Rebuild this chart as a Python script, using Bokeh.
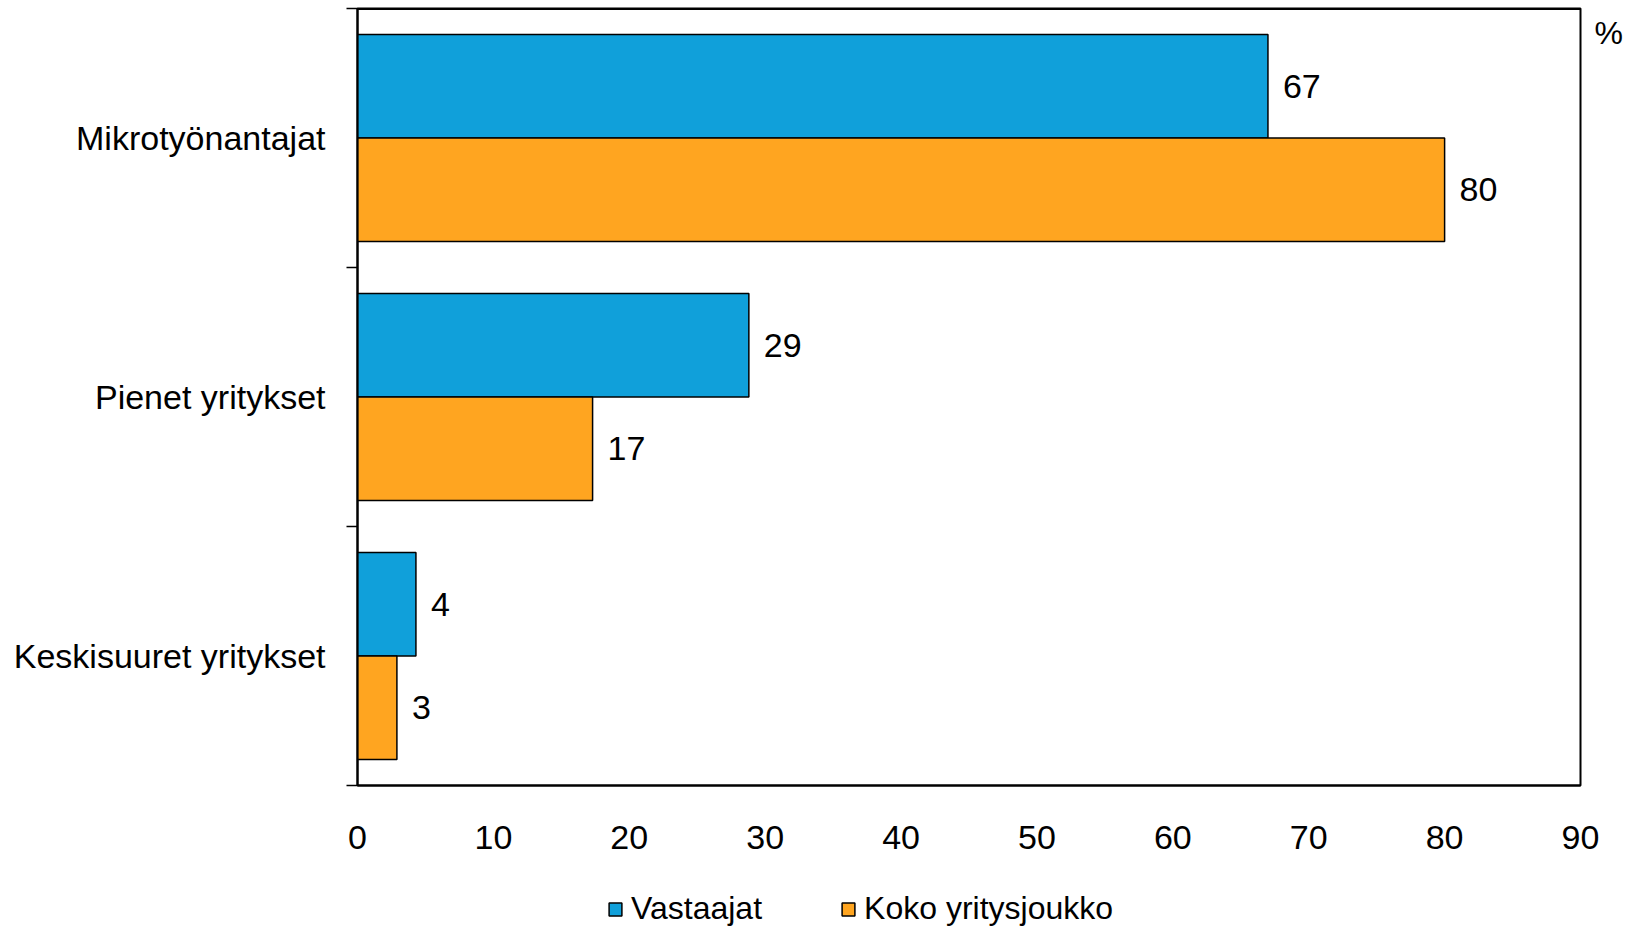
from bokeh.plotting import figure
from bokeh.models import (Range1d, FixedTicker, ColumnDataSource, Legend, LegendItem,
                          Span, LinearAxis)
from bokeh.layouts import column
from bokeh.core.properties import value
from bokeh.embed import file_html
from bokeh.resources import INLINE

# ---- data ----
categories = ["Mikrotyönantajat", "Pienet yritykset", "Keskisuuret yritykset"]
vastaajat = [67.0, 28.8, 4.3]
koko = [80.0, 17.3, 2.9]
vastaajat_labels = ["67", "29", "4"]
koko_labels = ["80", "17", "3"]
series_names = ["Vastaajat", "Koko yritysjoukko"]
x_ticks = [0, 10, 20, 30, 40, 50, 60, 70, 80, 90]
unit_label = "%"

FONT = "Liberation Sans"
BLUE = "#10A0DA"
ORANGE = "#FFA520"
COLORS = [BLUE, ORANGE]

n = len(categories)
ypos = [n - i for i in range(n)]  # 3,2,1 from top

p = figure(width=1626, height=865, output_backend="svg", toolbar_location=None,
           x_range=Range1d(0, 90), y_range=Range1d(0.5, n + 0.5),
           min_border_left=357, min_border_right=46, min_border_top=8,
           min_border_bottom=80)
p.background_fill_color = "white"
p.border_fill_color = "white"
p.outline_line_color = "black"
p.outline_line_width = 2
p.xgrid.visible = False
p.ygrid.visible = False

src_v = ColumnDataSource(dict(y=[y + 0.2 for y in ypos], right=vastaajat, lab=vastaajat_labels))
src_k = ColumnDataSource(dict(y=[y - 0.2 for y in ypos], right=koko, lab=koko_labels))
sources = [src_v, src_k]

for src, col in zip(sources, COLORS):
    p.hbar(y="y", left=0, right="right", height=0.4, source=src,
           fill_color=col, line_color="black", line_width=1.5)
    p.text(x="right", y="y", text="lab", source=src, x_offset=15,
           text_baseline="middle", text_align="left",
           text_font=value(FONT), text_font_size="34px", text_color="black")

# x axis
xa = p.xaxis[0]
xa.ticker = FixedTicker(ticks=x_ticks, minor_ticks=[])
xa.major_tick_out = 0
xa.major_tick_in = 0
xa.minor_tick_out = 0
xa.minor_tick_in = 0
xa.axis_line_width = 2
xa.axis_line_color = "black"
xa.major_label_text_font = FONT
xa.major_label_text_font_size = "34px"
xa.major_label_text_color = "black"
xa.major_label_standoff = 40

# y axis
ya = p.yaxis[0]
ya.ticker = FixedTicker(ticks=ypos, minor_ticks=[0.5 + i for i in range(n + 1)])
ya.major_label_overrides = {y: c for y, c in zip(ypos, categories)}
ya.major_tick_out = 0
ya.major_tick_in = 0
ya.minor_tick_out = 11
ya.minor_tick_in = 0
ya.minor_tick_line_color = "black"
ya.minor_tick_line_width = 1.5
ya.axis_line_width = 2
ya.axis_line_color = "black"
ya.major_label_text_font = FONT
ya.major_label_text_font_size = "34px"
ya.major_label_text_color = "black"
ya.major_label_standoff = 21

# unit label "%" on the right via an unlabeled right axis
pct_y = n + 0.5 - 0.093
ra = LinearAxis(ticker=FixedTicker(ticks=[pct_y], minor_ticks=[]),
                major_label_overrides={pct_y: unit_label},
                axis_line_color=None, major_tick_line_color=None,
                minor_tick_line_color=None, major_tick_out=0, major_tick_in=0,
                major_label_standoff=14, major_label_text_font=FONT,
                major_label_text_font_size="32px", major_label_text_color="black")
p.add_layout(ra, "right")

p.add_layout(Span(location=n + 0.5, dimension="width", line_color="black", line_width=3))

# ---- legend strip below the chart ----
p2 = figure(width=1626, height=63, output_backend="svg", toolbar_location=None,
            x_range=Range1d(0, 1), y_range=Range1d(0, 1),
            x_axis_location=None, y_axis_location=None, min_border=0)
p2.outline_line_color = None
p2.xgrid.visible = False
p2.ygrid.visible = False
items = []
for name, src, col in zip(series_names, sources, COLORS):
    r = p2.hbar(y="y", left=0, right="right", height=0.4, source=src,
                fill_color=col, line_color="black", line_width=1.5)
    r.visible = False  # only its legend swatch is shown
    items.append(LegendItem(label=name, renderers=[r]))

legend = Legend(items=items, orientation="horizontal", location=(250, 1),
                label_text_font=FONT, label_text_font_size="32px",
                label_text_color="black",
                glyph_width=16, glyph_height=16, label_standoff=8, spacing=78,
                padding=0, margin=0, border_line_color=None,
                background_fill_alpha=0, inactive_fill_alpha=0)
p2.add_layout(legend, "center")

open("out.html", "w").write(file_html(column(p, p2, spacing=0), INLINE))
